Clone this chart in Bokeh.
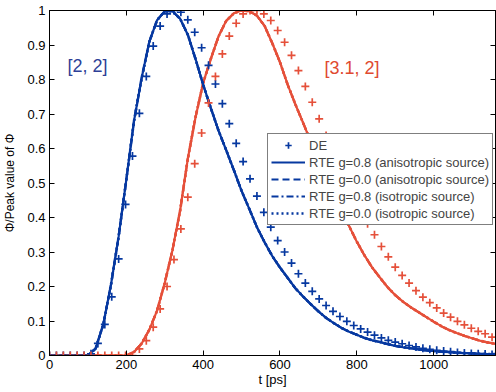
from bokeh.plotting import figure
from bokeh.models import (Legend, LegendItem, LinearAxis, FixedTicker,
                          CustomJSTickFormatter, Label, Range1d,
                          CustomLabelingPolicy)
from bokeh.embed import file_html
from bokeh.resources import INLINE

# ---------------- data ----------------
# DE samples (every 18 ps)
t_de = [0, 18, 36, 54, 72, 90, 108, 126, 144, 162, 180, 198, 216, 234, 252, 270,
        288, 306, 324, 342, 360, 378, 396, 414, 432, 450, 468, 486, 504, 522, 540,
        558, 576, 594, 612, 630, 648, 666, 684, 702, 720, 738, 756, 774, 792, 810,
        828, 846, 864, 882, 900, 918, 936, 954, 972, 990, 1008, 1026, 1044, 1062,
        1080, 1098, 1116, 1134, 1152]
blue_de = [0, 0, 0, 0, 0, 0, 0.005, 0.035, 0.09, 0.17, 0.28, 0.438,
           0.578, 0.702, 0.809, 0.897, 0.955, 0.99, 1.0, 0.995, 0.973, 0.937,
           0.892, 0.841, 0.787, 0.730, 0.672, 0.615, 0.562, 0.512, 0.462, 0.415,
           0.372, 0.333, 0.300, 0.268, 0.237, 0.210, 0.186, 0.164, 0.145, 0.128,
           0.113, 0.099, 0.087, 0.077, 0.068, 0.059, 0.051, 0.044, 0.039, 0.034,
           0.029, 0.025, 0.021, 0.018, 0.015, 0.013, 0.011, 0.009, 0.007, 0.006,
           0.005, 0.004, 0.003]
red_de = [0, 0, 0, 0, 0, 0, 0, 0, 0, 0, 0, 0, 0,
          0.019, 0.043, 0.082, 0.135, 0.200, 0.278, 0.367, 0.459, 0.556, 0.645,
          0.732, 0.809, 0.874, 0.926, 0.963, 0.990, 1.0, 1.0, 0.990, 0.971, 0.942,
          0.908, 0.870, 0.826, 0.780, 0.734, 0.686, 0.638, 0.590, 0.545, 0.500,
          0.455, 0.417, 0.382, 0.350, 0.316, 0.286, 0.256, 0.232, 0.210, 0.188,
          0.169, 0.153, 0.138, 0.123, 0.111, 0.099, 0.089, 0.079, 0.070, 0.063,
          0.053]

# RTE samples (every 20 ps)
t_rte = [0, 20, 40, 60, 80, 100, 120, 140, 160, 180, 200, 220, 240, 260, 280, 300,
         320, 340, 360, 380, 400, 420, 440, 460, 480, 500, 520, 540, 560, 580, 600,
         620, 640, 660, 680, 700, 720, 740, 760, 780, 800, 820, 840, 860, 880, 900,
         920, 940, 960, 980, 1000, 1020, 1040, 1060, 1080, 1100, 1120, 1140, 1160]
blue_rte = [0, 0, 0, 0, 0, 0, 0.02, 0.09, 0.205, 0.345, 0.51, 0.68, 0.805, 0.91,
            0.972, 0.998, 0.998, 0.976, 0.93, 0.86, 0.785, 0.717, 0.652, 0.595,
            0.537, 0.477, 0.425, 0.372, 0.328, 0.288, 0.255, 0.225, 0.195, 0.171,
            0.149, 0.128, 0.109, 0.094, 0.080, 0.069, 0.060, 0.051, 0.044, 0.039,
            0.033, 0.028, 0.024, 0.021, 0.018, 0.015, 0.013, 0.011, 0.010, 0.008,
            0.007, 0.006, 0.005, 0.004, 0.004]
red_rte = [0, 0, 0, 0, 0, 0, 0, 0, 0, 0, 0, 0.01, 0.035, 0.075, 0.13, 0.21, 0.305,
           0.42, 0.57, 0.69, 0.79, 0.86, 0.925, 0.97, 0.992, 1.0, 0.998, 0.985,
           0.955, 0.905, 0.85, 0.785, 0.728, 0.675, 0.62, 0.57, 0.52, 0.47, 0.42,
           0.375, 0.33, 0.29, 0.255, 0.226, 0.198, 0.175, 0.156, 0.14, 0.126, 0.112,
           0.098, 0.085, 0.074, 0.065, 0.057, 0.05, 0.043, 0.038, 0.034]

x_ticks = [0, 200, 400, 600, 800, 1000]
y_ticks = [0, 0.1, 0.2, 0.3, 0.4, 0.5, 0.6, 0.7, 0.8, 0.9, 1.0]

labels = ["DE",
          "RTE g=0.8 (anisotropic source)",
          "RTE g=0.0 (anisotropic source)",
          "RTE g=0.8 (isotropic source)",
          "RTE g=0.0 (isotropic source)"]
dashes = ["solid", "7 4", "7 3 2 3", "2 3"]

BLUE = "#0638a0"
RED = "#e5503a"
FONT = "Liberation Sans"

# ---------------- figure ----------------
p = figure(frame_width=446, frame_height=345, output_backend="svg",
           toolbar_location=None, x_range=Range1d(0, 1161), y_range=Range1d(0, 1),
           min_border_left=49, min_border_right=1, min_border_top=10,
           min_border_bottom=37)
p.grid.visible = False
p.outline_line_color = "black"
p.outline_line_width = 1
p.background_fill_color = "white"
p.border_fill_color = "white"

yfmt = CustomJSTickFormatter(code="return (tick == 0 || tick == 1) ? tick.toFixed(0) : tick.toFixed(1);")

for ax in (p.xaxis[0], p.yaxis[0]):
    ax.major_tick_in = 5
    ax.major_tick_out = 0
    ax.minor_tick_line_color = None
    ax.axis_line_color = "black"
    ax.major_tick_line_color = "black"
    ax.major_label_text_font = FONT
    ax.major_label_text_font_size = "13px"
    ax.major_label_text_color = "black"
    ax.axis_label_text_font = FONT
    ax.axis_label_text_font_style = "normal"
    ax.axis_label_text_color = "black"

p.xaxis.ticker = FixedTicker(ticks=x_ticks)
p.yaxis.ticker = FixedTicker(ticks=y_ticks)
p.yaxis.formatter = yfmt
p.xaxis.axis_label = "t [ps]"
p.yaxis.axis_label = "Φ/Peak value of Φ"
p.xaxis.axis_label_text_font_size = "13px"
p.yaxis.axis_label_text_font_size = "12px"
p.xaxis.major_label_standoff = 4
p.xaxis.axis_label_standoff = 0
p.yaxis.major_label_standoff = 4
p.yaxis.axis_label_standoff = 7

hide_all = CustomLabelingPolicy(code="""
for (const i of indices)
    indices.unset(i)
""")
for loc, tk in (("right", y_ticks), ("above", x_ticks)):
    ax = LinearAxis(ticker=FixedTicker(ticks=tk), major_tick_in=5, major_tick_out=0,
                    minor_tick_line_color=None, major_label_text_font_size="1px",
                    major_label_policy=hide_all,
                    major_label_standoff=0, axis_line_color="black")
    p.add_layout(ax, loc)

# RTE lines
blue_lines = []
for d in dashes:
    w = 2.6 if d == "2 3" else 2.2
    p.line(t_rte, red_rte, line_color=RED, line_width=w, line_dash=d)
for d in dashes:
    w = 2.6 if d == "2 3" else 2.2
    r = p.line(t_rte, blue_rte, line_color=BLUE, line_width=w, line_dash=d)
    blue_lines.append(r)

# DE markers
de_blue = p.scatter(t_de, blue_de, marker="cross", size=8, line_width=1.7,
                    line_color=BLUE)
p.scatter(t_de, red_de, marker="cross", size=8, line_width=1.7, line_color=RED)

# annotations
p.add_layout(Label(x=47, y=0.84, text="[2, 2]", text_font=FONT,
                   text_font_size="18px", text_color="#2e3f97",
                   text_baseline="middle"))
p.add_layout(Label(x=716, y=0.832, text="[3.1, 2]", text_font=FONT,
                   text_font_size="18px", text_color="#e04a30",
                   text_baseline="middle"))

items = [LegendItem(label=labels[0], renderers=[de_blue])]
for lab, r in zip(labels[1:], blue_lines):
    items.append(LegendItem(label=lab, renderers=[r]))
legend = Legend(items=items, location=(218, 130), border_line_color="black",
                border_line_width=1, background_fill_color="white",
                background_fill_alpha=1, label_text_font=FONT,
                label_text_font_size="13px", glyph_width=34, glyph_height=16,
                label_height=16, spacing=1, padding=3, margin=0, label_standoff=4)
p.add_layout(legend, "center")

open("out.html", "w").write(file_html(p, INLINE))
